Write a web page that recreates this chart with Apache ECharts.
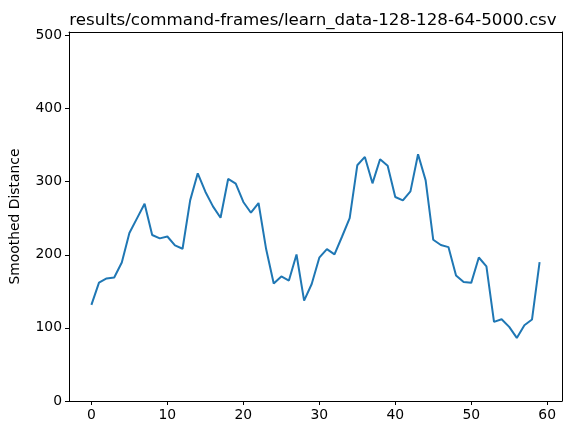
<!DOCTYPE html>
<html>
<head>
<meta charset="utf-8">
<script src="https://cdn.jsdelivr.net/npm/echarts@6/dist/echarts.min.js"></script>
<style>
  html, body { margin: 0; padding: 0; background: #fff; }
  #chart { width: 575px; height: 435px; }
</style>
</head>
<body>
<div id="chart"></div>
<script>
// smoothed distance per step
const smoothed = [
  131.5, 162, 167.6, 169, 189.5, 229.7, 249.8, 269.9, 227, 222.4,
  225, 212.8, 208.2, 274.4, 311.4, 286.3, 266.2, 250.7, 303.7, 297.3,
  272.2, 257.5, 270.8, 207.8, 160.7, 170.3, 164.8, 200.4, 137.4, 160,
  196, 207.7, 200.5, 225, 250.2, 322.4, 333.8, 297.7, 330.6, 321.9,
  279, 274.4, 286.7, 337.4, 301.8, 220.5, 213.3, 210.5, 171.7, 162.6,
  161.6, 196.3, 184, 108.2, 111.9, 101.4, 86.3, 103.7, 111.4, 190
];
const xTicks = [0, 10, 20, 30, 40, 50, 60];
const yTicks = [0, 100, 200, 300, 400, 500];

const points = smoothed.map((v, i) => [i, v]);

const font = 'DejaVu Sans';
const black = '#000';
let chart = echarts.init(document.getElementById('chart'), null, { renderer: 'canvas' });

// plain frame axis for top / right spines
const spine = (extra) => Object.assign({
    type: 'value',
    axisLine: { show: true, onZero: false, lineStyle: { color: black, width: 1 } },
    axisTick: { show: false },
    axisLabel: { show: false },
    splitLine: { show: false }
}, extra);

let option = {
    animation: false,
    title: {
        text: 'results/command-frames/learn_data-128-128-64-5000.csv',
        left: 308,
        top: 7,
        textAlign: 'center',
        textStyle: { fontFamily: font, fontSize: 16.7, fontWeight: 'normal', color: black }
    },
    grid: { left: 67, right: 13, top: 32, bottom: 34 },
    xAxis: [{
        type: 'value',
        min: -2.95,
        max: 61.95,
        axisLine: { show: true, onZero: false, lineStyle: { color: black, width: 1 } },
        axisTick: { show: true, length: 4, customValues: xTicks, lineStyle: { color: black } },
        axisLabel: { customValues: xTicks, margin: 7, fontFamily: font, fontSize: 13.9, color: black },
        splitLine: { show: false }
    }, spine({ position: 'top', min: -2.95, max: 61.95 })],
    yAxis: [{
        type: 'value',
        min: 0,
        max: 504.7,
        name: 'Smoothed Distance',
        nameLocation: 'middle',
        nameGap: 47,
        nameTextStyle: { fontFamily: font, fontSize: 13.9, color: black },
        axisLine: { show: true, onZero: false, lineStyle: { color: black, width: 1 } },
        axisTick: { show: true, length: 4, customValues: yTicks, lineStyle: { color: black } },
        axisLabel: { customValues: yTicks, margin: 7, fontFamily: font, fontSize: 13.9, color: black },
        splitLine: { show: false }
    }, spine({ position: 'right', min: 0, max: 504.7 })],
    series: [{
        type: 'line',
        data: points,
        showSymbol: false,
        lineStyle: { color: '#1f77b4', width: 2 },
        itemStyle: { color: '#1f77b4' }
    }]
};

chart.setOption(option);
</script>
</body>
</html>
